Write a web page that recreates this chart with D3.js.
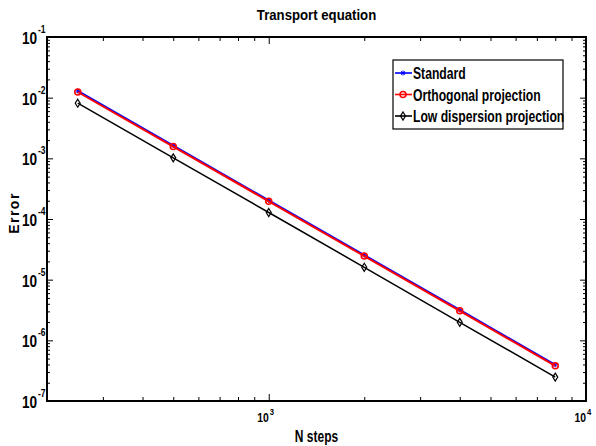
<!DOCTYPE html>
<html>
<head>
<meta charset="utf-8">
<title>Transport equation</title>
<script src="https://cdn.jsdelivr.net/npm/d3@7"></script>
<style>
  body { margin: 0; background: #fff; }
  svg text { font-family: "Liberation Sans", Arial, sans-serif; font-weight: bold; fill: #000; }
</style>
</head>
<body>
<div id="chart"></div>
<script>
// ---- data ----
var nSteps = [250, 500, 1000, 2000, 4000, 8000];
var errStandard = [0.0129, 1.62e-3, 2.03e-4, 2.54e-5, 3.17e-6, 3.95e-7];
var errOrthogonal = [0.0124, 1.56e-3, 1.96e-4, 2.45e-5, 3.06e-6, 3.8e-7];
var errLowDisp = [0.0081, 1.02e-3, 1.28e-4, 1.6e-5, 1.98e-6, 2.48e-7];
var seriesNames = ['Standard', 'Orthogonal projection', 'Low dispersion projection'];
var xMajor = [1e3, 1e4];
var xExp = [3, 4];
var yMajor = [1e-7, 1e-6, 1e-5, 1e-4, 1e-3, 1e-2, 1e-1];
var yExp = [-7, -6, -5, -4, -3, -2, -1];

var W = 596, H = 446;
var margin = {top: 37, right: 10, bottom: 45, left: 47};
var width = W - margin.left - margin.right,
    height = H - margin.top - margin.bottom;

var svg = d3.select('#chart').append('svg')
    .attr('width', W)
    .attr('height', H);

var g = svg.append('g').attr('transform', 'translate(' + margin.left + ',' + margin.top + ')');

var x = d3.scaleLog().domain([200, 1e4]).range([0, width]);
var y = d3.scaleLog().domain([1e-7, 1e-1]).range([height, 0]);

// condensed-looking text: squeeze horizontally
function txt(parent, px, py, size, str, anchor, sx) {
    return parent.append('text')
        .attr('transform', 'translate(' + px + ',' + py + ') scale(' + (sx || 0.82) + ',1)')
        .attr('text-anchor', anchor || 'start')
        .style('font-size', size + 'px')
        .text(str);
}

// minor ticks 2..9 per decade
var xMinor = [];
[100, 1000].forEach(function (d) { for (var k = 2; k <= 9; k++) { if (d * k > 200 && d * k < 1e4) xMinor.push(d * k); } });
var yMinor = [];
yMajor.slice(0, -1).forEach(function (d) { for (var k = 2; k <= 9; k++) yMinor.push(d * k); });

function axisGroup(axis, tr) {
    var a = g.append('g').attr('transform', tr).call(axis);
    a.select('.domain').remove();
    a.selectAll('line').attr('stroke', '#000').attr('stroke-width', 1);
    return a;
}
// inward ticks on all four sides
axisGroup(d3.axisBottom(x).tickValues(xMajor).tickSize(-7).tickFormat(''), 'translate(0,' + height + ')');
axisGroup(d3.axisBottom(x).tickValues(xMinor).tickSize(-4).tickFormat(''), 'translate(0,' + height + ')');
axisGroup(d3.axisTop(x).tickValues(xMajor).tickSize(-7).tickFormat(''), 'translate(0,0)');
axisGroup(d3.axisTop(x).tickValues(xMinor).tickSize(-4).tickFormat(''), 'translate(0,0)');
axisGroup(d3.axisLeft(y).tickValues(yMajor).tickSize(-6).tickFormat(''), 'translate(0,0)');
axisGroup(d3.axisLeft(y).tickValues(yMinor).tickSize(-3).tickFormat(''), 'translate(0,0)');
axisGroup(d3.axisRight(y).tickValues(yMajor).tickSize(-6).tickFormat(''), 'translate(' + width + ',0)');
axisGroup(d3.axisRight(y).tickValues(yMinor).tickSize(-3).tickFormat(''), 'translate(' + width + ',0)');

// box
g.append('rect').attr('width', width).attr('height', height)
    .attr('fill', 'none').attr('stroke', '#000').attr('stroke-width', 2);

// y tick labels 10^n
yMajor.forEach(function (d, i) {
    txt(g, -10, y(d) + 7, 16, '10', 'end', 0.85);
    txt(g, -9, y(d) - 4, 10, yExp[i], 'start', 0.85);
});
// x tick labels
xMajor.forEach(function (d, i) {
    txt(g, x(d), height + 21, 13, '10', 'end', 0.8);
    txt(g, x(d) + 1, height + 14, 9, xExp[i], 'start', 0.85);
});

// titles
txt(svg, margin.left + width / 2, 20, 15, 'Transport equation', 'middle', 0.88);
txt(svg, margin.left + width / 2, 442, 16, 'N steps', 'middle', 0.75);
svg.append('text').attr('transform', 'translate(19,' + 213 + ') rotate(-90)')
    .attr('text-anchor', 'middle').style('font-size', '14px').style('letter-spacing', '1.5px').text('Error');

// series
var line = d3.line().x(function (d) { return x(d[0]); }).y(function (d) { return y(d[1]); });
var series = [
    {name: seriesNames[0], vals: errStandard, color: '#0000ff', mark: 'star', lw: 2},
    {name: seriesNames[1], vals: errOrthogonal, color: '#ff0000', mark: 'circle', lw: 2},
    {name: seriesNames[2], vals: errLowDisp, color: '#000000', mark: 'diamond', lw: 1.5}
];

function drawMarker(sel, type, color) {
    if (type === 'circle') {
        sel.append('circle').attr('r', 3).attr('fill', 'none').attr('stroke', color).attr('stroke-width', 1.5);
    } else if (type === 'diamond') {
        sel.append('path').attr('d', 'M0,-4L2.5,0L0,4L-2.5,0Z').attr('fill', 'none').attr('stroke', color).attr('stroke-width', 1.2);
    } else {
        sel.append('path').attr('d', 'M-2.5,0H2.5M0,-2.5V2.5M-1.8,-1.8L1.8,1.8M-1.8,1.8L1.8,-1.8').attr('stroke', color).attr('stroke-width', 1);
    }
}

series.forEach(function (s) {
    var pts = nSteps.map(function (n, i) { return [n, s.vals[i]]; });
    g.append('path').datum(pts).attr('d', line)
        .attr('fill', 'none').attr('stroke', s.color).attr('stroke-width', s.lw);
    pts.forEach(function (p) {
        var m = g.append('g').attr('transform', 'translate(' + x(p[0]) + ',' + y(p[1]) + ')');
        drawMarker(m, s.mark, s.color);
    });
});

// legend
var lg = svg.append('g').attr('transform', 'translate(393,60)');
lg.append('rect').attr('width', 170).attr('height', 69)
    .attr('fill', '#fff').attr('stroke', '#000').attr('stroke-width', 1.2);
series.forEach(function (s, i) {
    var yy = 13 + i * 21.5;
    lg.append('line').attr('x1', 2).attr('x2', 19).attr('y1', yy).attr('y2', yy)
        .attr('stroke', s.color).attr('stroke-width', 1.6);
    drawMarker(lg.append('g').attr('transform', 'translate(10,' + yy + ')'), s.mark, s.color);
    txt(lg, 20, yy + 6, 16, s.name, 'start', 0.76);
});
</script>
</body>
</html>
